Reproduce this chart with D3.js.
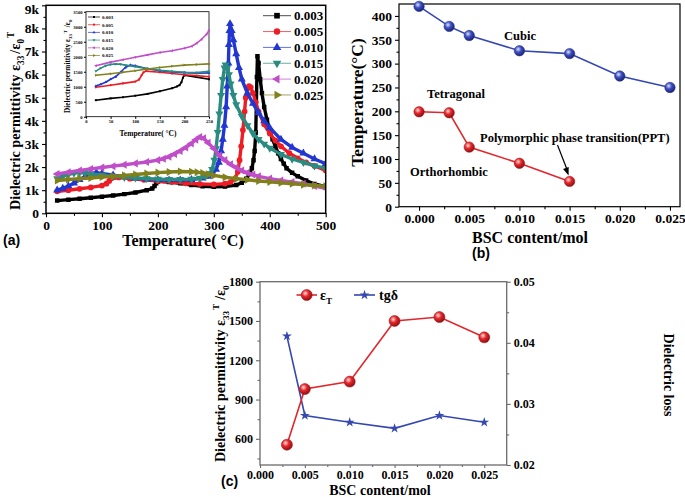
<!DOCTYPE html>
<html><head><meta charset="utf-8">
<script src="https://cdn.jsdelivr.net/npm/d3@7"></script>
<style>
body{margin:0;background:#fff}
svg{display:block}
</style></head><body>
<svg id="c" width="685" height="497"></svg>
<script>
// ---------------- Panel (a): permittivity vs temperature ----------------
const seriesNames = ['0.003','0.005','0.010','0.015','0.020','0.025'];

const tempA003 = [20,40,60,80,100,120,140,160,180,190,194,197,200,220,240,260,280,300,320,340,350,358,364,368,371,373,375,377,378,380,383,386,390,395,400,405,410,415,420,425,430,440,450,465,480,500];
const epsA003  = [0.55,0.59,0.63,0.67,0.72,0.77,0.83,0.9,1.0,1.07,1.18,1.3,1.38,1.35,1.3,1.22,1.17,1.15,1.16,1.22,1.32,1.5,1.7,1.95,2.3,2.7,3.5,5.9,6.8,6.5,5.8,5.2,4.6,4.05,3.6,3.2,2.9,2.6,2.35,2.15,1.95,1.75,1.6,1.42,1.27,1.15];

const tempA005 = [20,40,60,80,100,108,113,117,122,130,150,175,200,225,250,275,300,320,330,338,343,346,349,352,355,357,360,363,366,370,375,380,390,400,410,420,435,450,465,480,500];
const epsA005  = [0.95,1.0,1.06,1.12,1.2,1.28,1.4,1.52,1.56,1.55,1.5,1.45,1.4,1.35,1.3,1.27,1.25,1.28,1.35,1.5,1.8,2.3,2.9,3.6,4.4,5.0,5.4,5.5,5.45,5.2,4.8,4.4,3.85,3.45,3.15,2.9,2.6,2.38,2.2,2.05,1.85];

const tempA010 = [20,30,40,50,60,70,80,90,100,120,140,160,180,200,220,240,260,280,290,298,304,309,313,316,319,322,324,326,327,328,329,332,335,340,345,350,360,370,380,390,400,420,440,460,480,500];
const epsA010  = [1.0,1.08,1.18,1.3,1.45,1.6,1.72,1.76,1.72,1.65,1.58,1.52,1.48,1.45,1.44,1.44,1.46,1.52,1.6,1.72,1.9,2.2,2.7,3.2,3.8,4.6,5.5,6.5,7.3,7.9,8.2,7.9,7.5,6.9,6.3,5.8,5.2,4.75,4.35,4.0,3.7,3.2,2.85,2.6,2.35,2.15];

const tempA015 = [20,30,40,50,60,70,80,100,120,140,160,180,200,220,240,260,275,285,292,297,301,304,307,310,313,316,319,321,324,327,330,335,340,350,360,370,380,390,400,420,440,460,480,500];
const epsA015  = [1.5,1.6,1.68,1.74,1.76,1.74,1.7,1.65,1.6,1.56,1.53,1.5,1.48,1.47,1.47,1.48,1.52,1.6,1.72,1.9,2.3,2.8,3.5,4.3,5.1,5.8,6.3,6.42,6.3,6.0,5.6,5.1,4.7,4.2,3.8,3.45,3.2,3.0,2.82,2.55,2.35,2.2,2.05,1.95];

const tempA020 = [20,40,60,80,100,120,140,160,180,200,210,220,230,240,250,260,268,275,282,290,300,310,320,330,340,350,360,370,380,400,420,440,460,480,500];
const epsA020  = [1.7,1.78,1.85,1.92,1.98,2.04,2.1,2.16,2.22,2.3,2.36,2.45,2.57,2.7,2.85,3.02,3.18,3.3,3.25,3.05,2.8,2.5,2.3,2.12,1.98,1.85,1.75,1.68,1.6,1.5,1.42,1.35,1.28,1.18,1.08];

const tempA025 = [20,40,60,80,100,120,140,160,180,200,220,240,260,270,280,290,300,320,340,360,380,400,420,440,460,480,500];
const epsA025  = [1.42,1.46,1.5,1.53,1.57,1.6,1.64,1.68,1.72,1.76,1.79,1.81,1.8,1.78,1.74,1.69,1.64,1.56,1.5,1.45,1.4,1.36,1.32,1.28,1.24,1.2,1.17];

const yTicksA = ['0','1k','2k','3k','4k','5k','6k','7k','8k','9k'];
const xTicksA = [0,100,200,300,400,500];

// Inset (low temperature region)
const tempI003 = [20,50,75,100,125,150,175,185,190,194,197,200,225,250];
const epsI003  = [550,610,650,700,760,850,950,1010,1050,1150,1300,1380,1320,1250];
const tempI005 = [20,50,75,100,108,113,117,122,150,175,200,225,250];
const epsI005  = [980,1050,1110,1170,1240,1380,1480,1520,1480,1440,1400,1370,1330];
const tempI010 = [20,30,40,50,60,70,80,90,100,125,150,175,200,225,250];
const epsI010  = [1020,1080,1150,1250,1330,1480,1640,1720,1700,1600,1530,1490,1470,1450,1460];
const tempI015 = [20,30,40,50,60,70,80,100,125,150,175,200,225,250];
const epsI015  = [1520,1620,1700,1740,1760,1750,1720,1670,1600,1550,1510,1480,1470,1510];
const tempI020 = [20,50,75,100,125,150,175,200,215,225,235,245,250];
const epsI020  = [1700,1820,1900,1980,2060,2140,2200,2280,2350,2450,2580,2750,2870];
const tempI025 = [20,50,75,100,125,150,175,200,225,250];
const epsI025  = [1380,1430,1480,1530,1590,1640,1680,1720,1740,1760];
const yTicksI = [0,500,1000,1500,2000,2500,3000,3500];
const xTicksI = [0,50,100,150,200,250];

// ---------------- Panel (b): phase diagram ----------------
const bscB = [0,0.003,0.005,0.010,0.015,0.020,0.025];
const cubicT = [420,378,359,327,321,274,250];
const bscB2 = [0,0.003,0.005,0.010,0.015];
const tetraT = [199,197,125,91,53];
const yTicksB = [0,50,100,150,200,250,300,350,400];
const xTicksB = [0,0.005,0.010,0.015,0.020,0.025];

// ---------------- Panel (c): permittivity & loss vs content ----------------
const bscC = [0.003,0.005,0.010,0.015,0.020,0.025];
const epsC = [555,980,1037,1500,1530,1375];
const tanC = [0.0411,0.0281,0.0270,0.0260,0.0281,0.0270];
const yTicksCL = [600,900,1200,1500,1800];
const yTicksCR = [0.02,0.03,0.04,0.05];
const xTicksC = [0,0.005,0.010,0.015,0.020,0.025];

// =====================================================================
const F = '"Liberation Serif","Times New Roman",serif';
const FS = '"Liberation Sans",Arial,sans-serif';
const svg = d3.select('#c');
svg.append('rect').attr('width',685).attr('height',497).attr('fill','#fff');
const defs = svg.append('defs');

function styleAxis(g, fs, color){
  g.attr('font-family', F).attr('font-size', fs).attr('font-weight','bold');
  g.select('.domain').remove();
  g.selectAll('.tick line').attr('stroke', color).attr('stroke-width',1.1);
  g.selectAll('.tick text').attr('fill','#000');
}
function addAxis(parent, orient, scale, tx, ty, major, minor, fmt, fs, len, mlen, color, pad){
  const mk = {left:d3.axisLeft, right:d3.axisRight, bottom:d3.axisBottom}[orient];
  const g = parent.append('g').attr('transform',`translate(${tx},${ty})`);
  g.call(mk(scale).tickValues(major).tickFormat(fmt).tickSize(len).tickPadding(pad));
  styleAxis(g, fs, color);
  if (minor){
    const g2 = parent.append('g').attr('transform',`translate(${tx},${ty})`);
    g2.call(mk(scale).tickValues(minor).tickFormat('').tickSize(mlen));
    styleAxis(g2, fs, color);
  }
  return g;
}
function richText(parent, x, y, rot, fs, parts, anchor, family){
  const t = parent.append('text')
    .attr('transform',`translate(${x},${y}) rotate(${rot})`)
    .attr('text-anchor', anchor||'start')
    .attr('font-family', family||F).attr('font-weight','bold')
    .attr('font-size', fs).attr('fill','#000');
  let cur = 0;
  parts.forEach(p=>{
    const target = p.s==='sub' ? fs*0.3 : p.s==='sup' ? -fs*0.45 : 0;
    t.append('tspan').attr('dy', target-cur).attr('dx', p.dx||0)
      .attr('font-size', p.s ? fs*0.65 : fs).text(p.t);
    cur = target;
  });
  return t;
}
function plainText(parent, x, y, fs, str, anchor, family){
  return parent.append('text').attr('x',x).attr('y',y)
    .attr('font-family', family||F).attr('font-weight','bold')
    .attr('font-size',fs).attr('text-anchor',anchor||'start').attr('fill','#000').text(str);
}

// ---------------- Panel (a) ----------------
const xA = d3.scaleLinear().domain([0,500]).range([46,325.7]);
const yA = d3.scaleLinear().domain([0,9]).range([213.3,5.3]);
const gA = svg.append('g');

const axYA = addAxis(gA,'left',yA,46,0,d3.range(0,10),d3.range(0.5,9,1),(d,i)=>yTicksA[i],13.5,4,2.5,'#000',3);
// keep the top label ("9k") inside the picture
axYA.selectAll('.tick text').filter(d=>d===9).attr('dy','0.62em');
addAxis(gA,'bottom',xA,0,213.3,xTicksA,d3.range(50,500,100),d3.format('d'),13.5,4,2.5,'#000',3);

defs.append('clipPath').attr('id','clipA').append('rect')
  .attr('x',46).attr('y',5.3).attr('width',279.7).attr('height',208);

const colA = ['#000000','#ee1c24','#2236d0','#2a8c80','#c04ec8','#80801c'];
const symA = [
  {s:d3.symbolSquare, r:0, size:20},
  {s:d3.symbolCircle, r:0, size:26},
  {s:d3.symbolTriangle, r:0, size:28},
  {s:d3.symbolTriangle, r:180, size:28},
  {s:d3.symbolTriangle, r:-90, size:28},
  {s:d3.symbolTriangle, r:90, size:28}
];
const mainTemps = [tempA003,tempA005,tempA010,tempA015,tempA020,tempA025];
const mainEps = [epsA003,epsA005,epsA010,epsA015,epsA020,epsA025];
const seriesA = seriesNames.map((n,i)=>({name:n,color:colA[i],sym:symA[i],
  pts:mainTemps[i].map((t,j)=>({t, v:mainEps[i][j]}))}));

const plotA = gA.append('g').attr('clip-path','url(#clipA)');
const lineA = d3.line().x(d=>xA(d.t)).y(d=>yA(d.v));
seriesA.forEach(s=>{
  plotA.append('path').attr('d',lineA(s.pts)).attr('fill','none')
    .attr('stroke',s.color).attr('stroke-width',3.4).attr('stroke-linejoin','round');
  plotA.selectAll(null).data(s.pts).enter().append('path')
    .attr('d',d3.symbol(s.sym.s,s.sym.size)())
    .attr('transform',d=>`translate(${xA(d.t)},${yA(d.v)}) rotate(${s.sym.r})`)
    .attr('fill',s.color);
});
gA.append('rect').attr('x',46).attr('y',5.3).attr('width',279.7).attr('height',208)
  .attr('fill','none').attr('stroke','#000').attr('stroke-width',1.5);

// main legend
seriesA.forEach((s,i)=>{
  const y = 15.7 + i*15.85;
  gA.append('line').attr('x1',263).attr('x2',291).attr('y1',y).attr('y2',y)
    .attr('stroke',s.color).attr('stroke-width',1).attr('opacity',0.7);
  gA.append('path').attr('d',d3.symbol(s.sym.s,32)())
    .attr('transform',`translate(277,${y}) rotate(${s.sym.r})`).attr('fill',s.color);
  plainText(gA,294,y+4.6,13,s.name);
});

// inset
const xI = d3.scaleLinear().domain([0,250]).range([86,209]);
const yI = d3.scaleLinear().domain([0,3500]).range([116.7,11.7]);
gA.append('rect').attr('x',86).attr('y',11.7).attr('width',123).attr('height',105)
  .attr('fill','#fff').attr('stroke','#000').attr('stroke-width',0.8);
addAxis(gA,'left',yI,86,0,yTicksI,null,d3.format('d'),4.6,2,0,'#000',1.5);
addAxis(gA,'bottom',xI,0,116.7,xTicksI,null,d3.format('d'),4.6,2,0,'#000',1.5);
const insetTemps = [tempI003,tempI005,tempI010,tempI015,tempI020,tempI025];
const insetEps = [epsI003,epsI005,epsI010,epsI015,epsI020,epsI025];
const lineI = d3.line().x(d=>xI(d.t)).y(d=>yI(d.v));
seriesA.forEach((s,i)=>{
  const pts = insetTemps[i].map((t,j)=>({t,v:insetEps[i][j]}));
  gA.append('path').attr('d',lineI(pts)).attr('fill','none')
    .attr('stroke',s.color).attr('stroke-width',1.6).attr('stroke-linejoin','round');
  gA.selectAll(null).data(pts).enter().append('path')
    .attr('d',d3.symbol(s.sym.s,4)())
    .attr('transform',d=>`translate(${xI(d.t)},${yI(d.v)}) rotate(${s.sym.r})`)
    .attr('fill',s.color);
  const y = 17 + i*7.7;
  gA.append('line').attr('x1',88).attr('x2',100).attr('y1',y).attr('y2',y)
    .attr('stroke',s.color).attr('stroke-width',0.7);
  gA.append('path').attr('d',d3.symbol(s.sym.s,4)())
    .attr('transform',`translate(94,${y}) rotate(${s.sym.r})`).attr('fill',s.color);
  plainText(gA,102,y+1.8,5,s.name);
});
plainText(gA,148,135.5,7.5,'Temperature( \u00B0C)','middle');
richText(gA,70,113,-90,7.3,[{t:'Dielectric permittivity \u03B5'},{t:'33',s:'sub'},{t:'T',s:'sup',dx:1},{t:' /\u03B5',dx:1},{t:'0',s:'sub'}]);

// titles (a)
plainText(gA,183,246,16,'Temperature( \u00B0C)','middle');
richText(gA,20,210,-90,14.3,[{t:'Dielectric permittivity \u03B5'},{t:'33',s:'sub'},{t:'/\u03B5',dx:2},{t:'0',s:'sub'},{t:'T',s:'sup',dx:1}]);
plainText(gA,3,245,14,'(a)','start',FS);

// ---------------- Panel (b) ----------------
const xB = d3.scaleLinear().domain([-0.002,0.026]).range([399,680]);
const yB = d3.scaleLinear().domain([0,425]).range([206.7,4]);
const gB = svg.append('g');
addAxis(gB,'left',yB,399,0,yTicksB,d3.range(25,425,50),d3.format('d'),13.5,4,2.5,'#000',3);
addAxis(gB,'bottom',xB,0,206.7,xTicksB,d3.range(0.0025,0.026,0.005),d3.format('.3f'),13.5,4,2.5,'#000',3);
gB.append('rect').attr('x',399).attr('y',4).attr('width',281).attr('height',202.7)
  .attr('fill','none').attr('stroke','#000').attr('stroke-width',1.2);

function ballGrad(id, light, base, dark){
  const g = defs.append('radialGradient').attr('id',id).attr('cx','38%').attr('cy','35%').attr('r','65%');
  g.append('stop').attr('offset','0%').attr('stop-color',light);
  g.append('stop').attr('offset','45%').attr('stop-color',base);
  g.append('stop').attr('offset','100%').attr('stop-color',dark);
}
ballGrad('ballBlue','#dfe4ff','#3e50c2','#1b2275');
ballGrad('ballRed','#ffe0e0','#e8282c','#8c1013');

const blueC = '#3547b0', redC = '#e3262b';
const lineB = d3.line().x(d=>xB(d[0])).y(d=>yB(d[1]));
const cubicPts = bscB.map((x,i)=>[x,cubicT[i]]);
const tetraPts = bscB2.map((x,i)=>[x,tetraT[i]]);
gB.append('path').attr('d',lineB(cubicPts)).attr('fill','none').attr('stroke',blueC).attr('stroke-width',1.6);
gB.append('path').attr('d',lineB(tetraPts)).attr('fill','none').attr('stroke',redC).attr('stroke-width',1.6);
gB.selectAll(null).data(cubicPts).enter().append('circle')
  .attr('cx',d=>xB(d[0])).attr('cy',d=>yB(d[1])).attr('r',5.2)
  .attr('fill','url(#ballBlue)').attr('stroke','#2a3590').attr('stroke-width',0.6);
gB.selectAll(null).data(tetraPts).enter().append('circle')
  .attr('cx',d=>xB(d[0])).attr('cy',d=>yB(d[1])).attr('r',5.2)
  .attr('fill','url(#ballRed)').attr('stroke','#a81a1d').attr('stroke-width',0.6);

plainText(gB,520,40,12.5,'Cubic','middle');
plainText(gB,427,98,12.5,'Tetragonal');
plainText(gB,410,176,12.5,'Orthorhombic');
plainText(gB,480,141.5,12.5,'Polymorphic phase transition(PPT)');
// arrow toward the last PPT point
const pEnd = [xB(0.015)-1, yB(53)-6];
const pStart = [557.5,145];
gB.append('line').attr('x1',pStart[0]).attr('y1',pStart[1]).attr('x2',pEnd[0]-1.2).attr('y2',pEnd[1]-5)
  .attr('stroke','#000').attr('stroke-width',1.2);
{
  const ang = Math.atan2(pEnd[1]-pStart[1], pEnd[0]-pStart[0]);
  const L=8, W=3;
  const bx = pEnd[0]-L*Math.cos(ang), by = pEnd[1]-L*Math.sin(ang);
  const nx = -Math.sin(ang)*W, ny = Math.cos(ang)*W;
  gB.append('path').attr('d',`M${pEnd[0]},${pEnd[1]}L${bx+nx},${by+ny}L${bx-nx},${by-ny}Z`).attr('fill','#000');
}
plainText(gB,530,243,16,'BSC content/mol','middle');
richText(gB,363,102.5,-90,17.5,[{t:'Temperature(\u00B0C)'}],'middle');
plainText(gB,472,258,14,'(b)','start',FS);

// ---------------- Panel (c) ----------------
const xC = d3.scaleLinear().domain([0,0.0275]).range([260,506.7]);
const yCL = d3.scaleLinear().domain([400,1800]).range([465,281.7]);
const yCR = d3.scaleLinear().domain([0.02,0.05]).range([465,281.7]);
const gC = svg.append('g');
const grayC = '#6a6a6a';
addAxis(gC,'left',yCL,260,0,yTicksCL,[450,750,1050,1350,1650],d3.format('d'),12,4,2.5,grayC,3);
addAxis(gC,'right',yCR,506.7,0,yTicksCR,[0.025,0.035,0.045],d3.format('.2f'),12,4,2.5,grayC,3);
addAxis(gC,'bottom',xC,0,465,xTicksC,d3.range(0.0025,0.025,0.005),d3.format('.3f'),12,3,2,grayC,2);
gC.append('rect').attr('x',260).attr('y',281.7).attr('width',246.7).attr('height',183.3)
  .attr('fill','none').attr('stroke',grayC).attr('stroke-width',1.3);

const epsPts = bscC.map((x,i)=>[x,epsC[i]]);
const tanPts = bscC.map((x,i)=>[x,tanC[i]]);
gC.append('path').attr('d',d3.line().x(d=>xC(d[0])).y(d=>yCR(d[1]))(tanPts))
  .attr('fill','none').attr('stroke',blueC).attr('stroke-width',1.6);
gC.append('path').attr('d',d3.line().x(d=>xC(d[0])).y(d=>yCL(d[1]))(epsPts))
  .attr('fill','none').attr('stroke',redC).attr('stroke-width',1.6);
gC.selectAll(null).data(tanPts).enter().append('path')
  .attr('d',d3.symbol(d3.symbolStar,30)())
  .attr('transform',d=>`translate(${xC(d[0])},${yCR(d[1])})`).attr('fill',blueC);
gC.selectAll(null).data(epsPts).enter().append('circle')
  .attr('cx',d=>xC(d[0])).attr('cy',d=>yCL(d[1])).attr('r',5.5)
  .attr('fill','url(#ballRed)').attr('stroke','#a81a1d').attr('stroke-width',0.6);

// legend (c)
gC.append('line').attr('x1',296.5).attr('x2',317).attr('y1',295).attr('y2',295).attr('stroke',redC).attr('stroke-width',1.6);
gC.append('circle').attr('cx',306.7).attr('cy',295).attr('r',5.5).attr('fill','url(#ballRed)').attr('stroke','#a81a1d').attr('stroke-width',0.6);
richText(gC,320,300,0,14,[{t:'\u03B5'},{t:'T',s:'sub'}]);
gC.append('line').attr('x1',354).attr('x2',375).attr('y1',295).attr('y2',295).attr('stroke',blueC).attr('stroke-width',1.6);
gC.append('path').attr('d',d3.symbol(d3.symbolStar,30)()).attr('transform','translate(364.5,295)').attr('fill',blueC);
plainText(gC,379,300,14,'tg\u03B4');

plainText(gC,380,495,14,'BSC content/mol','middle');
richText(gC,225,462,-90,14,[{t:'Dielectric permittivity \u03B5'},{t:'33',s:'sub'},{t:'T',s:'sup',dx:1},{t:'/\u03B5',dx:4},{t:'0',s:'sub'}]);
richText(gC,664,375,90,14,[{t:'Dielectric loss'}],'middle');
plainText(gC,221,486,14,'(c)','start',FS);
</script>
</body></html>
